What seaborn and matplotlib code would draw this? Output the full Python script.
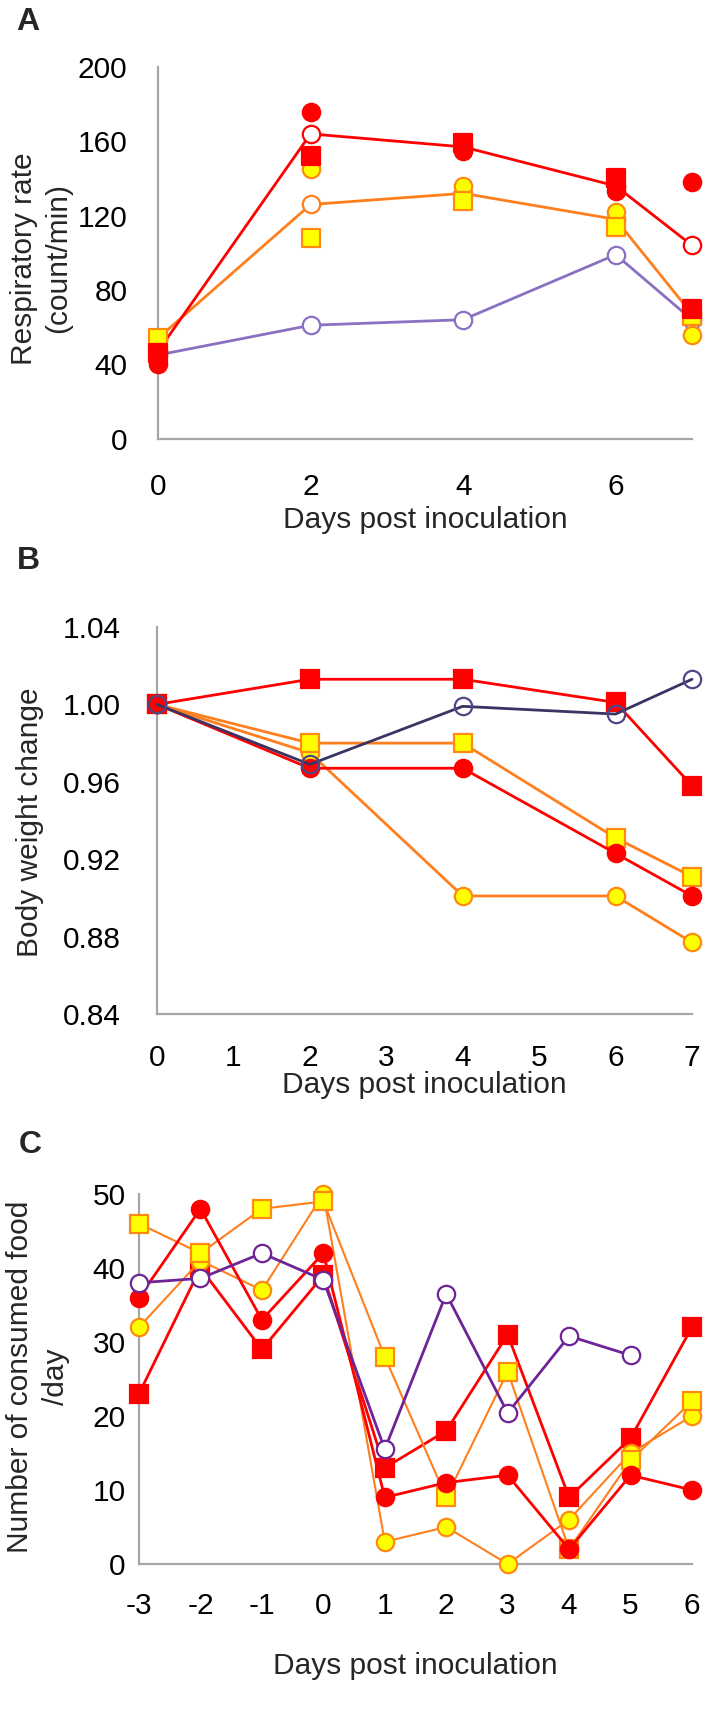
import numpy as np
import matplotlib
matplotlib.use("Agg")
import matplotlib.pyplot as plt
import seaborn as sns

# --- DATA ---
# Panel A: respiratory rate
resp_days = [0, 2, 4, 6, 7]
resp_red_mean = [47, 164, 157, 136, 104]
resp_orange_mean = [54, 126, 132, 118, 67]
resp_purple_mean = [45, 61, 64, 99, 64]
resp_red_circle = [40, 176, 155, 133, 138]
resp_red_square = [46, 152, 159, 140, 70]
resp_yellow_circle = [53, 145, 136, 122, 56]
resp_yellow_square = [54, 108, 128, 114, 66]
resp_xticks = [0, 2, 4, 6]
resp_yticks = [0, 40, 80, 120, 160, 200]

# Panel B: body weight change
bw_days = [0, 2, 4, 6, 7]
bw_red_square = [1.000, 1.013, 1.013, 1.001, 0.958]
bw_red_circle = [1.000, 0.967, 0.967, 0.923, 0.901]
bw_yellow_square = [1.000, 0.980, 0.980, 0.931, 0.911]
bw_yellow_circle = [1.000, 0.975, 0.901, 0.901, 0.877]
bw_purple = [1.000, 0.969, 0.999, 0.995, 1.013]
bw_xticks = [0, 1, 2, 3, 4, 5, 6, 7]
bw_yticks = [0.84, 0.88, 0.92, 0.96, 1.00, 1.04]
bw_yticklabels = ["0.84", "0.88", "0.92", "0.96", "1.00", "1.04"]

# Panel C: consumed food per day
food_days = [-3, -2, -1, 0, 1, 2, 3, 4, 5, 6]
food_red_square = [23, 40, 29, 39, 13, 18, 31, 9, 17, 32]
food_red_circle = [36, 48, 33, 42, 9, 11, 12, 2, 12, 10]
food_yellow_square = [46, 42, 48, 49, 28, 9, 26, 2, 14, 22]
food_yellow_circle = [32, 41, 37, 50, 3, 5, 0, 6, 15, 20]
food_purple = [38, 38.6, 42, 38.4, 15.5, 36.5, 20.4, 30.8, 28.2, np.nan]
food_yticks = [0, 10, 20, 30, 40, 50]

# --- STYLE ---
sns.set_theme(style="white")
plt.rcParams['font.family'] = ['Liberation Sans', 'DejaVu Sans']
plt.rcParams['axes.unicode_minus'] = False

RED = '#ff0000'
ORANGE = '#ff7f1e'
YELLOW = '#ffff00'
YEDGE = '#ff8a10'
PURPLE_A = '#8a70c0'
PURPLE_B = '#3a3464'
PURPLE_C = '#6e2496'
GREY = '#a6a6a6'
FS = 21.5
MS = 12.5
LW = 2.0

fig = plt.figure(figsize=(7.05, 17.13), dpi=100)
W, H = 705.0, 1713.0


def make_ax(left, right, top, bottom):
    return fig.add_axes([left / W, 1 - bottom / H, (right - left) / W, (bottom - top) / H])


def style_ax(ax, xpad, ypad):
    sns.despine(ax=ax)
    for s in ['left', 'bottom']:
        ax.spines[s].set_color(GREY)
        ax.spines[s].set_linewidth(1.6)
    ax.tick_params(axis='both', direction='out', length=6, width=1.6, color=GREY,
                   labelsize=FS, labelcolor='black')
    ax.tick_params(axis='x', pad=xpad)
    ax.tick_params(axis='y', pad=ypad)
    ax.grid(False)


def line(ax, x, y, color, marker, face, edge, z, lw=LW):
    sns.lineplot(x=x, y=y, ax=ax, color=color, linewidth=lw, marker=marker, markersize=MS,
                 markerfacecolor=face, markeredgecolor=edge, markeredgewidth=1.6,
                 clip_on=False, zorder=z)


def dots(ax, x, y, marker, face, edge, z):
    sns.scatterplot(x=x, y=y, ax=ax, marker=marker, s=MS ** 2, color=face,
                    edgecolor=edge, linewidth=1.6, clip_on=False, zorder=z)


# --- PANEL A ---
axA = make_ax(158, 692, 67, 438.6)
line(axA, resp_days, resp_purple_mean, PURPLE_A, 'o', 'white', PURPLE_A, 3)
line(axA, resp_days, resp_orange_mean, ORANGE, 'o', 'white', ORANGE, 3)
line(axA, resp_days, resp_red_mean, RED, 'o', 'white', RED, 3)
dots(axA, resp_days, resp_yellow_circle, 'o', YELLOW, YEDGE, 4)
dots(axA, resp_days, resp_yellow_square, 's', YELLOW, YEDGE, 5)
dots(axA, resp_days, resp_red_circle, 'o', RED, RED, 6)
dots(axA, resp_days, resp_red_square, 's', RED, RED, 7)
axA.set_xlim(0, 7)
axA.set_ylim(0, 200)
axA.set_xticks(resp_xticks)
axA.set_yticks(resp_yticks)
style_ax(axA, 19, 16)
axA.set_xlabel('Days post inoculation', fontsize=FS)
axA.xaxis.set_label_coords(0.5, (438.6 - 520) / 371.6)
axA.xaxis.label.set_va('center')
axA.set_ylabel('Respiratory rate\n(count/min)', fontsize=FS, linespacing=1.25)
axA.yaxis.set_label_coords((41 - 158) / 534, 0.485)
axA.yaxis.label.set_va('center')

# --- PANEL B ---
axB = make_ax(157, 692, 627, 1014)
line(axB, bw_days, bw_yellow_circle, ORANGE, 'o', YELLOW, YEDGE, 3)
line(axB, bw_days, bw_yellow_square, ORANGE, 's', YELLOW, YEDGE, 4)
line(axB, bw_days, bw_red_circle, RED, 'o', RED, RED, 5)
line(axB, bw_days, bw_red_square, RED, 's', RED, RED, 6)
line(axB, bw_days, bw_purple, PURPLE_B, 'o', 'none', '#4d4888', 7)
axB.set_xlim(0, 7)
axB.set_ylim(0.84, 1.04)
axB.set_xticks(bw_xticks)
axB.set_yticks(bw_yticks)
axB.set_yticklabels(bw_yticklabels)
style_ax(axB, 15.5, 20)
axB.set_xlabel('Days post inoculation', fontsize=FS)
axB.xaxis.set_label_coords(0.5, (1014 - 1085) / 387)
axB.xaxis.label.set_va('center')
axB.set_ylabel('Body weight change', fontsize=FS)
axB.yaxis.set_label_coords((30 - 157) / 535, 0.496)
axB.yaxis.label.set_va('center')

# --- PANEL C ---
axC = make_ax(139, 692, 1194, 1564)
line(axC, food_days, food_red_square, RED, 's', RED, RED, 3)
line(axC, food_days, food_yellow_circle, ORANGE, 'o', YELLOW, YEDGE, 4, lw=1.5)
line(axC, food_days, food_yellow_square, ORANGE, 's', YELLOW, YEDGE, 5, lw=1.5)
line(axC, food_days, food_red_circle, RED, 'o', RED, RED, 6)
line(axC, food_days, food_purple, PURPLE_C, 'o', 'white', PURPLE_C, 7)
axC.set_xlim(-3, 6)
axC.set_ylim(0, 50)
axC.set_xticks(food_days)
axC.set_yticks(food_yticks)
style_ax(axC, 14.5, 3.6)
axC.set_xlabel('Days post inoculation', fontsize=FS)
axC.xaxis.set_label_coords(0.5, (1564 - 1666) / 370)
axC.xaxis.label.set_va('center')
axC.set_ylabel('Number of consumed food\n/day', fontsize=FS, linespacing=1.35)
axC.yaxis.set_label_coords((38 - 139) / 553, 0.505)
axC.yaxis.label.set_va('center')

# panel letters
for letter, xc, yc in [('A', 28, 22), ('B', 28, 561), ('C', 30, 1145)]:
    fig.text(xc / W, 1 - yc / H, letter, fontsize=23, fontweight='bold',
             ha='center', va='center')

fig.savefig('out.png', dpi=100)
